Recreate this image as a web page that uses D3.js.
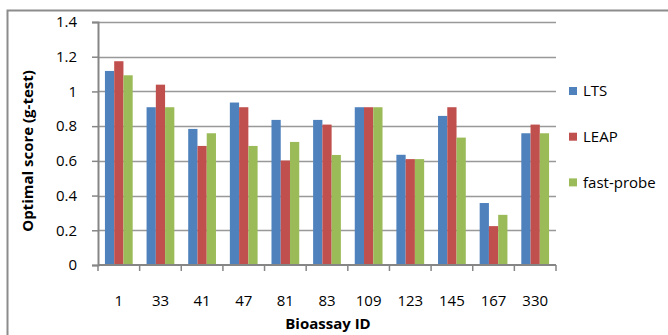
<!DOCTYPE html>
<html>
<head>
<meta charset="utf-8">
<script src="https://cdn.jsdelivr.net/npm/d3@7"></script>
<style>
  body { margin: 0; background: #fff; }
  text { font-family: "Open Sans", Lato, sans-serif; fill: #000; }
</style>
</head>
<body>
<div id="chart"></div>
<script>
// data
const assays = ["1", "33", "41", "47", "81", "83", "109", "123", "145", "167", "330"];
const seriesNames = ["LTS", "LEAP", "fast-probe"];
const lts = [1.118, 0.909, 0.784, 0.936, 0.836, 0.836, 0.909, 0.635, 0.859, 0.357, 0.759];
const leap = [1.174, 1.039, 0.686, 0.909, 0.602, 0.809, 0.909, 0.610, 0.909, 0.224, 0.809];
const fastProbe = [1.093, 0.909, 0.759, 0.686, 0.709, 0.634, 0.909, 0.610, 0.734, 0.289, 0.759];
const yTicks = [0, 0.2, 0.4, 0.6, 0.8, 1, 1.2, 1.4];
const colors = ["#4f81bd", "#c0504d", "#9bbb59"];

const width = 668, height = 335;
const margin = {top: 22, right: 112, bottom: 70, left: 98};
const visWidth = width - margin.left - margin.right;
const visHeight = height - margin.top - margin.bottom;

const svg = d3.select("#chart").append("svg")
    .attr("width", width)
    .attr("height", height);

// outer frame (runs off the right and bottom edges)
svg.append("rect")
    .attr("x", 7.5).attr("y", 10.5)
    .attr("width", 700).attr("height", 400)
    .attr("fill", "none")
    .attr("stroke", "#8c8c8c")
    .attr("stroke-width", 2);

const g = svg.append("g")
    .attr("transform", `translate(${margin.left}, ${margin.top})`);

const x = d3.scaleBand()
    .domain(assays)
    .range([0, visWidth])
    .paddingInner(0)
    .paddingOuter(0);

const x1 = d3.scaleBand()
    .domain(seriesNames)
    .range([0, x.bandwidth()])
    .paddingOuter(0.75)
    .paddingInner(0);

const y = d3.scaleLinear()
    .domain([0, 1.4])
    .range([visHeight, 0]);

// gridlines
g.append("g")
  .selectAll("line")
  .data(yTicks.filter(d => d > 0))
  .join("line")
    .attr("x1", 0).attr("x2", visWidth)
    .attr("y1", d => Math.round(y(d)) + 0.5)
    .attr("y2", d => Math.round(y(d)) + 0.5)
    .attr("stroke", "#999")
    .attr("stroke-width", 1.5);

// bars
const table = assays.map((a, i) => ({
  assay: a,
  values: [lts[i], leap[i], fastProbe[i]].map((v, j) => ({name: seriesNames[j], value: v, color: colors[j]}))
}));

const groups = g.selectAll(".grp")
  .data(table)
  .join("g")
    .attr("transform", d => `translate(${x(d.assay)}, 0)`);

groups.selectAll("rect")
  .data(d => d.values)
  .join("rect")
    .attr("x", d => x1(d.name))
    .attr("y", d => y(d.value))
    .attr("width", x1.bandwidth())
    .attr("height", d => visHeight - y(d.value))
    .attr("fill", d => d.color);

// y axis
const yAxis = d3.axisLeft(y)
    .tickValues(yTicks)
    .tickSize(6)
    .tickPadding(15)
    .tickFormat(d => d3.format("~g")(d));

g.append("g")
    .call(yAxis)
    .call(a => a.select(".domain").attr("stroke", "#868686").attr("stroke-width", 2))
    .call(a => a.selectAll(".tick line").attr("stroke", "#868686").attr("stroke-width", 1.5))
    .call(a => a.selectAll(".tick text")
        .attr("font-family", "'Open Sans', sans-serif")
        .attr("font-size", 15)
        .attr("fill", "#000"));

// x axis with ticks at category boundaries
g.append("line")
    .attr("x1", 0).attr("x2", visWidth)
    .attr("y1", visHeight).attr("y2", visHeight)
    .attr("stroke", "#868686")
    .attr("stroke-width", 2);

g.append("g")
  .selectAll("line")
  .data(assays.concat([null]))
  .join("line")
    .attr("x1", (d, i) => i < assays.length ? x(d) : visWidth)
    .attr("x2", (d, i) => i < assays.length ? x(d) : visWidth)
    .attr("y1", visHeight)
    .attr("y2", visHeight + 6)
    .attr("stroke", "#868686")
    .attr("stroke-width", 1.5);

g.append("g")
  .selectAll("text")
  .data(assays)
  .join("text")
    .attr("x", d => x(d) + x.bandwidth() / 2)
    .attr("y", visHeight + 41)
    .attr("text-anchor", "middle")
    .attr("font-size", 15)
    .text(d => d);

// axis titles
g.append("text")
    .attr("x", visWidth / 2 + 1)
    .attr("y", visHeight + 64)
    .attr("text-anchor", "middle")
    .attr("font-size", 15)
    .attr("font-weight", "bold")
    .text("Bioassay ID");

svg.append("text")
    .attr("transform", "translate(33, 151) rotate(-90)")
    .attr("text-anchor", "middle")
    .attr("font-size", 15)
    .attr("font-weight", "bold")
    .text("Optimal score (g-test)");

// legend
const legend = svg.append("g")
    .attr("transform", "translate(569, 91)")
  .selectAll("g")
  .data(seriesNames)
  .join("g")
    .attr("transform", (d, i) => `translate(0, ${i * 45.7})`);

legend.append("rect")
    .attr("x", 0).attr("y", -4)
    .attr("width", 8).attr("height", 8)
    .attr("fill", (d, i) => colors[i]);

legend.append("text")
    .attr("x", 14)
    .attr("y", 0)
    .attr("dy", "0.36em")
    .attr("font-size", 15)
    .text(d => d);
</script>
</body>
</html>
